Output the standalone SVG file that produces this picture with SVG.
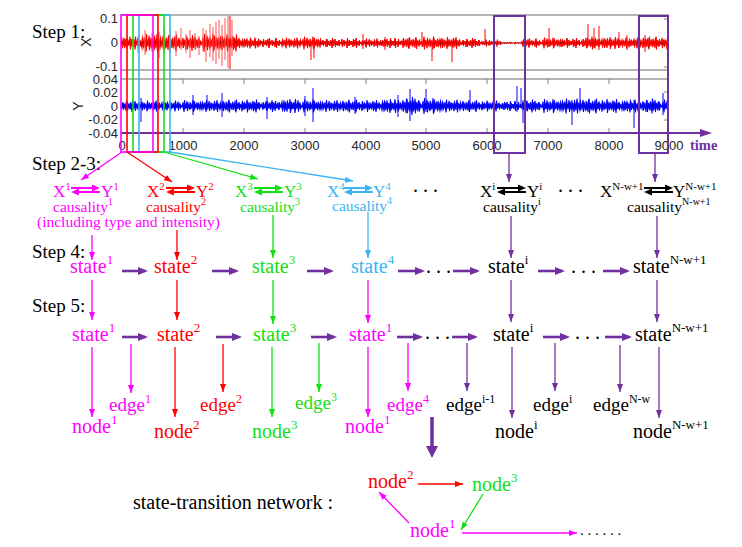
<svg xmlns="http://www.w3.org/2000/svg" xmlns:xlink="http://www.w3.org/1999/xlink" width="742" height="547" viewBox="0 0 742 547">
<style>
.t{font-family:"Liberation Serif","Times New Roman",serif}
.ax{font-family:"Liberation Sans",Arial,sans-serif;font-size:13px;fill:#262626}
.step{font-size:19px;fill:#000}
.xy{font-size:17px}
.cau{font-size:15.5px}
.st{font-size:20px}
.ed{font-size:19px}
.fr{stroke:#9a9a9a;stroke-width:1.6;fill:none}
.tk{stroke:#808080;stroke-width:1;fill:none}
.sig path{fill:none;stroke-width:1;vector-effect:non-scaling-stroke}
.m{fill:#ff00ff}.r{fill:#ff0000}.g{fill:#11e011}.b{fill:#3ab4f2}.k{fill:#000}
.cm{stroke:#ff00ff}.cr{stroke:#ff0000}.cg{stroke:#11e011}.cb{stroke:#3ab4f2}.cp{stroke:#7030a0}
.thin{stroke-width:1.3;fill:none}
.thick{stroke-width:2.6;fill:none}
</style>
<defs>
<marker id="aM" markerUnits="userSpaceOnUse" markerWidth="8" markerHeight="6" refX="8" refY="3" orient="auto"><path d="M0,0L8,3L0,6z" fill="#ff00ff"/></marker>
<marker id="aR" markerUnits="userSpaceOnUse" markerWidth="8" markerHeight="6" refX="8" refY="3" orient="auto"><path d="M0,0L8,3L0,6z" fill="#ff0000"/></marker>
<marker id="aG" markerUnits="userSpaceOnUse" markerWidth="8" markerHeight="6" refX="8" refY="3" orient="auto"><path d="M0,0L8,3L0,6z" fill="#11e011"/></marker>
<marker id="aB" markerUnits="userSpaceOnUse" markerWidth="8" markerHeight="6" refX="8" refY="3" orient="auto"><path d="M0,0L8,3L0,6z" fill="#3ab4f2"/></marker>
<marker id="aP" markerUnits="userSpaceOnUse" markerWidth="8" markerHeight="6" refX="8" refY="3" orient="auto"><path d="M0,0L8,3L0,6z" fill="#7030a0"/></marker>
<marker id="hP" markerUnits="userSpaceOnUse" markerWidth="10" markerHeight="8" refX="7" refY="4" orient="auto"><path d="M0,0L10,4L0,8z" fill="#7030a0"/></marker>
<marker id="bigP" markerUnits="userSpaceOnUse" markerWidth="12" markerHeight="12" refX="8" refY="6" orient="auto"><path d="M0,0L12,6L0,12z" fill="#7030a0"/></marker>
<g id="dbl">
<path d="M0,-2H23" stroke="currentColor" stroke-width="2"/>
<path d="M21,-5.5L29,-2L21,1.5z" fill="currentColor"/>
<path d="M6,2H29" stroke="currentColor" stroke-width="2"/>
<path d="M8,-1.5L0,2L8,5.5z" fill="currentColor"/>
</g>
<path id="na" d="M0,0L1,-3L2,2L3,-4L4,3L5,-1L6,4L7,-2L8,1L9,-5L10,3L11,-2L12,2L13,-3L14,5L15,-1L16,2L17,-4L18,1L19,-2L20,0"/>
<path id="nb" d="M0,0L1,3L2,-2L3,1L4,-3L5,5L6,-1L7,2L8,-4L9,1L10,-3L11,2L12,-2L13,4L14,-1L15,3L16,-5L17,2L18,-1L19,3L20,0"/>
<path id="nc" d="M0,0L1,-2L2,4L3,-1L4,2L5,-3L6,1L7,-4L8,5L9,-2L10,1L11,-3L12,2L13,-1L14,4L15,-5L16,2L17,-2L18,3L19,-1L20,0"/>
<path id="nd" d="M0,0L1,2L2,-3L3,1L4,-2L5,4L6,-4L7,2L8,-1L9,3L10,-2L11,5L12,-3L13,1L14,-4L15,2L16,-1L17,3L18,-3L19,1L20,0"/>
<path id="ne" d="M0,0L1,-1L2,3L3,-5L4,2L5,-2L6,4L7,-1L8,2L9,-3L10,1L11,-2L12,5L13,-4L14,2L15,-1L16,3L17,-2L18,1L19,-3L20,0"/>
<path id="nf" d="M0,0L1,4L2,-2L3,3L4,-1L5,2L6,-5L7,1L8,-3L9,2L10,-2L11,1L12,-4L13,3L14,-1L15,5L16,-2L17,2L18,-3L19,1L20,0"/>
<g id="redBand">
<use href="#na" transform="translate(121,43) scale(1,1.3)"/>
<use href="#nb" transform="translate(141,43) scale(1,1.8)"/>
<use href="#nc" transform="translate(161,43) scale(1,-1.7)"/>
<use href="#nd" transform="translate(181,43) scale(1,1.6)"/>
<use href="#ne" transform="translate(201,43) scale(1,-1.8)"/>
<use href="#nf" transform="translate(221,43) scale(1,1.7)"/>
<use href="#na" transform="translate(241,43) scale(1,-1.1)"/>
<use href="#nc" transform="translate(261,43) scale(1,1.0)"/>
<use href="#nb" transform="translate(281,43) scale(1,1.1)"/>
<use href="#ne" transform="translate(301,43) scale(1,-1.3)"/>
<use href="#nd" transform="translate(321,43) scale(1,1.0)"/>
<use href="#nf" transform="translate(341,43) scale(1,-1.0)"/>
<use href="#nb" transform="translate(361,43) scale(1,0.9)"/>
<use href="#na" transform="translate(381,43) scale(1,-1.0)"/>
<use href="#nc" transform="translate(401,43) scale(1,1.2)"/>
<use href="#ne" transform="translate(421,43) scale(1,1.3)"/>
<use href="#nf" transform="translate(441,43) scale(1,-1.2)"/>
<use href="#nd" transform="translate(461,43) scale(1,1.0)"/>
<use href="#nb" transform="translate(481,43) scale(1,-0.7)"/>
<use href="#na" transform="translate(501,43) scale(1,0.25)"/>
<use href="#nc" transform="translate(521,43) scale(1,0.9)"/>
<use href="#ne" transform="translate(541,43) scale(1,-1.1)"/>
<use href="#nf" transform="translate(561,43) scale(1,1.0)"/>
<use href="#nd" transform="translate(581,43) scale(1,-1.3)"/>
<use href="#na" transform="translate(601,43) scale(1,1.2)"/>
<use href="#nb" transform="translate(621,43) scale(1,-1.1)"/>
<use href="#nc" transform="translate(641,43) scale(1,1.3)"/>
<use href="#nf" transform="translate(661,43) scale(1,-1.3)"/>
</g>
<g id="blueBand">
<use href="#nd" transform="translate(121,106) scale(1,1.2)"/>
<use href="#nf" transform="translate(141,106) scale(1,-1.1)"/>
<use href="#na" transform="translate(161,106) scale(1,1.1)"/>
<use href="#ne" transform="translate(181,106) scale(1,-1.2)"/>
<use href="#nb" transform="translate(201,106) scale(1,1.2)"/>
<use href="#nc" transform="translate(221,106) scale(1,-1.3)"/>
<use href="#nf" transform="translate(241,106) scale(1,1.3)"/>
<use href="#nd" transform="translate(261,106) scale(1,-1.2)"/>
<use href="#na" transform="translate(281,106) scale(1,1.4)"/>
<use href="#ne" transform="translate(301,106) scale(1,-1.3)"/>
<use href="#nb" transform="translate(321,106) scale(1,1.2)"/>
<use href="#nc" transform="translate(341,106) scale(1,-1.3)"/>
<use href="#nf" transform="translate(361,106) scale(1,1.2)"/>
<use href="#na" transform="translate(381,106) scale(1,-1.4)"/>
<use href="#nd" transform="translate(401,106) scale(1,1.8)"/>
<use href="#ne" transform="translate(421,106) scale(1,-1.6)"/>
<use href="#nb" transform="translate(441,106) scale(1,1.3)"/>
<use href="#nc" transform="translate(461,106) scale(1,-1.2)"/>
<use href="#nf" transform="translate(481,106) scale(1,1.1)"/>
<use href="#na" transform="translate(501,106) scale(1,-1.0)"/>
<use href="#nd" transform="translate(521,106) scale(1,1.3)"/>
<use href="#ne" transform="translate(541,106) scale(1,-1.4)"/>
<use href="#nb" transform="translate(561,106) scale(1,1.5)"/>
<use href="#nc" transform="translate(581,106) scale(1,-1.5)"/>
<use href="#nf" transform="translate(601,106) scale(1,1.4)"/>
<use href="#na" transform="translate(621,106) scale(1,-1.3)"/>
<use href="#nd" transform="translate(641,106) scale(1,1.5)"/>
<use href="#ne" transform="translate(661,106) scale(1,-1.3)"/>
</g>
<clipPath id="cx"><rect x="121" y="15" width="547" height="56"/></clipPath>
<clipPath id="cy"><rect x="121" y="79" width="547" height="54"/></clipPath>
</defs>
<rect width="742" height="547" fill="#fff"/>

<g id="plot">
<g class="sig" clip-path="url(#cx)" stroke="#ff0000">
<use href="#redBand"/>
<use href="#redBand" transform="translate(0.5,86) scale(1,-1)"/>
<path stroke="#ff5050" d="M138,36V53M145,30V55M152,33V52M159,32V58M164,30V52M170,35V53M176,31V56M181,28V50M186,34V53M190,30V58M195,33V50M199,36V55M203,28V51M206,30V62M210,24V57M213,27V61M216,22V64M219,20V59M222,25V66M225,18V60M228,16V68M232,20V56"/>
<path d="M230,16V69M452,43V62M432,43V61M311,43V60M314,43V58M485,29V45M549,28V47M588,24V46M594,28V48M599,26V50M363,34V49M385,37V50M422,32V47M619,32V48M627,35V50M645,35V52"/>
</g>
<g class="sig" clip-path="url(#cy)" stroke="#0000ff">
<use href="#blueBand"/>
<use href="#blueBand" transform="translate(0.5,212) scale(1,-1)"/>
<path d="M141,98V122M193,95V115M207,95V110M222,93V117M267,97V119M305,96V116M313,88V122M355,97V114M398,95V117M410,89V121M426,89V112M470,90V110M517,86V112M521,88V108M523,100V123M572,100V125M580,88V110M634,100V128M663,93V115"/>
</g>
<path class="fr" d="M121,15H668V70H121M121,79H668V133"/>
<path class="tk" d="M664,19H668M664,67H668M664,92H668M664,120H668M183,79v5M244,79v5M305,79v5M366,79v5M426,79v5M487,79v5M548,79v5M609,79v5M183,133v-5M244,133v-5M305,133v-5M366,133v-5M426,133v-5M487,133v-5M548,133v-5M609,133v-5"/>
<path d="M121,133H702" stroke="#7030a0" stroke-width="2" fill="none"/>
<path d="M700,129L712,133L700,137z" fill="#7030a0"/>
<g class="ax" text-anchor="end">
<text x="118" y="23">0.1</text>
<text x="118" y="47">0</text>
<text x="118" y="71">-0.1</text>
<text x="118" y="83.5">0.04</text>
<text x="118" y="97">0.02</text>
<text x="118" y="110.5">0</text>
<text x="118" y="124">-0.02</text>
<text x="118" y="138">-0.04</text>
</g>
<g class="ax" text-anchor="middle">
<text x="122" y="150">0</text>
<text x="183" y="150">1000</text>
<text x="244" y="150">2000</text>
<text x="305" y="150">3000</text>
<text x="366" y="150">4000</text>
<text x="426" y="150">5000</text>
<text x="487" y="150">6000</text>
<text x="548" y="150">7000</text>
<text x="609" y="150">8000</text>
<text x="669" y="150">9000</text>
<text transform="translate(91,42) rotate(-90)" font-size="14">X</text>
<text transform="translate(83,106) rotate(-90)" font-size="14">Y</text>
</g>
<text class="t" x="690" y="150" font-size="14.5" font-weight="bold" fill="#7030a0">time</text>
<rect x="139" y="15" width="31" height="137" fill="none" stroke="#3ab4f2" stroke-width="1.6"/>
<rect x="133" y="15" width="31" height="137" fill="none" stroke="#11e011" stroke-width="1.6"/>
<rect x="127" y="15" width="31" height="137" fill="none" stroke="#ff0000" stroke-width="1.6"/>
<rect x="121" y="15" width="32" height="137" fill="none" stroke="#ff00ff" stroke-width="1.6"/>
<rect x="494" y="16" width="31" height="137" fill="none" stroke="#7030a0" stroke-width="2"/>
<rect x="639" y="16" width="29" height="137" fill="none" stroke="#7030a0" stroke-width="2"/>
</g>

<g id="steps" class="t step">
<text x="32" y="38">Step 1:</text>
<text x="32" y="170">Step 2-3:</text>
<text x="32" y="258">Step 4:</text>
<text x="32" y="312">Step 5:</text>
</g>

<g id="c1" class="t">
<text class="xy m" x="53" y="197">X<tspan dy="-7" font-size="11">1</tspan></text>
<use href="#dbl" x="71" y="190" color="#ff00ff"/>
<text class="xy m" x="101" y="197">Y<tspan dy="-7" font-size="11">1</tspan></text>
<text class="cau m" x="53" y="212">causality<tspan dy="-7" font-size="10">1</tspan></text>
<text class="cau m" x="37" y="227">(including type and intensity)</text>
</g>
<g id="c2" class="t">
<text class="xy r" x="147" y="197">X<tspan dy="-7" font-size="11">2</tspan></text>
<use href="#dbl" x="166" y="190" color="#ff0000"/>
<text class="xy r" x="196" y="197">Y<tspan dy="-7" font-size="11">2</tspan></text>
<text class="cau r" x="146" y="212">causality<tspan dy="-7" font-size="10">2</tspan></text>
</g>
<g id="c3" class="t">
<text class="xy g" x="235" y="197">X<tspan dy="-7" font-size="11">3</tspan></text>
<use href="#dbl" x="254" y="190" color="#11e011"/>
<text class="xy g" x="284" y="197">Y<tspan dy="-7" font-size="11">3</tspan></text>
<text class="cau g" x="240" y="212">causality<tspan dy="-7" font-size="10">3</tspan></text>
</g>
<g id="c4" class="t">
<text class="xy b" x="327" y="197">X<tspan dy="-7" font-size="11">4</tspan></text>
<use href="#dbl" x="344" y="190" color="#3ab4f2"/>
<text class="xy b" x="373" y="197">Y<tspan dy="-7" font-size="11">4</tspan></text>
<text class="cau b" x="332" y="211">causality<tspan dy="-7" font-size="10">4</tspan></text>
</g>
<g id="ci" class="t">
<text class="xy k" x="480" y="197">X<tspan dy="-7" font-size="11">i</tspan></text>
<use href="#dbl" x="497" y="190" color="#000"/>
<text class="xy k" x="527" y="197">Y<tspan dy="-7" font-size="11">i</tspan></text>
<text class="cau k" x="483" y="212">causality<tspan dy="-7" font-size="10">i</tspan></text>
</g>
<g id="cN" class="t">
<text class="xy k" x="600" y="197">X<tspan dy="-7" font-size="11">N-w+1</tspan></text>
<use href="#dbl" x="644" y="190" color="#000"/>
<text class="xy k" x="673" y="197">Y<tspan dy="-7" font-size="11">N-w+1</tspan></text>
<text class="cau k" x="627" y="212">causality<tspan dy="-7" font-size="10">N-w+1</tspan></text>
</g>
<g id="dots" class="t k" font-size="20">
<text x="413" y="192">. . .</text>
<text x="558" y="192">. . .</text>
<text x="426" y="273">. . .</text>
<text x="571" y="273">. . .</text>
<text x="425" y="339">. . .</text>
<text x="575" y="339">. . .</text>
<text x="580" y="535" font-size="15">. . . . . .</text>
</g>

<g id="s4-1" class="t st m"><text x="70" y="273">state<tspan dy="-9" font-size="13">1</tspan></text></g>
<g id="s4-2" class="t st r"><text x="154" y="273">state<tspan dy="-9" font-size="13">2</tspan></text></g>
<g id="s4-3" class="t st g"><text x="252" y="273">state<tspan dy="-9" font-size="13">3</tspan></text></g>
<g id="s4-4" class="t st b"><text x="351" y="273">state<tspan dy="-9" font-size="13">4</tspan></text></g>
<g id="s4-i" class="t st k"><text x="488" y="273">state<tspan dy="-9" font-size="13">i</tspan></text></g>
<g id="s4-N" class="t st k"><text x="633" y="273">state<tspan dy="-9" font-size="13">N-w+1</tspan></text></g>

<g id="s5-1" class="t st m"><text x="72" y="341">state<tspan dy="-9" font-size="13">1</tspan></text></g>
<g id="s5-2" class="t st r"><text x="157" y="341">state<tspan dy="-9" font-size="13">2</tspan></text></g>
<g id="s5-3" class="t st g"><text x="253" y="341">state<tspan dy="-9" font-size="13">3</tspan></text></g>
<g id="s5-4" class="t st m"><text x="349" y="341">state<tspan dy="-9" font-size="13">1</tspan></text></g>
<g id="s5-i" class="t st k"><text x="493" y="341">state<tspan dy="-9" font-size="13">i</tspan></text></g>
<g id="s5-N" class="t st k"><text x="635" y="341">state<tspan dy="-9" font-size="13">N-w+1</tspan></text></g>

<g id="e1" class="t ed m"><text x="109" y="411">edge<tspan dy="-8" font-size="12">1</tspan></text></g>
<g id="e2" class="t ed r"><text x="200" y="411">edge<tspan dy="-8" font-size="12">2</tspan></text></g>
<g id="e3" class="t ed g"><text x="295" y="409">edge<tspan dy="-8" font-size="12">3</tspan></text></g>
<g id="e4" class="t ed m"><text x="387" y="411">edge<tspan dy="-8" font-size="12">4</tspan></text></g>
<g id="ei1" class="t ed k"><text x="446" y="411">edge<tspan dy="-8" font-size="12">i-1</tspan></text></g>
<g id="ei" class="t ed k"><text x="533" y="411">edge<tspan dy="-8" font-size="12">i</tspan></text></g>
<g id="eN" class="t ed k"><text x="593" y="411">edge<tspan dy="-8" font-size="12">N-w</tspan></text></g>

<g id="n1" class="t st m"><text x="72" y="433">node<tspan dy="-9" font-size="13">1</tspan></text></g>
<g id="n2" class="t st r"><text x="154" y="438">node<tspan dy="-9" font-size="13">2</tspan></text></g>
<g id="n3" class="t st g"><text x="252" y="438">node<tspan dy="-9" font-size="13">3</tspan></text></g>
<g id="n4" class="t st m"><text x="345" y="433">node<tspan dy="-9" font-size="13">1</tspan></text></g>
<g id="ni" class="t st k"><text x="495" y="438">node<tspan dy="-9" font-size="13">i</tspan></text></g>
<g id="nN" class="t st k"><text x="633" y="438">node<tspan dy="-9" font-size="13">N-w+1</tspan></text></g>

<g id="net-label" class="t st k"><text x="133" y="509">state-transition network :</text></g>
<g id="net-n2" class="t st r"><text x="368" y="488">node<tspan dy="-9" font-size="13">2</tspan></text></g>
<g id="net-n3" class="t st g"><text x="472" y="491">node<tspan dy="-9" font-size="13">3</tspan></text></g>
<g id="net-n1" class="t st m"><text x="410" y="537">node<tspan dy="-9" font-size="13">1</tspan></text></g>

<g id="connectors">
<path class="thin cm" d="M122,152L81,180" marker-end="url(#aM)"/>
<path class="thin cr" d="M127,152L172,182" marker-end="url(#aR)"/>
<path class="thin cg" d="M164,152L258,179" marker-end="url(#aG)"/>
<path class="thin cb" d="M170,152L353,181" marker-end="url(#aB)"/>
<path class="thin cp" d="M509,153V182" marker-end="url(#aP)"/>
<path class="thin cp" d="M655,153V182" marker-end="url(#aP)"/>
<path class="thin cm" d="M92,235V260" marker-end="url(#aM)"/>
<path class="thin cr" d="M177,230V260" marker-end="url(#aR)"/>
<path class="thin cg" d="M273,215V258" marker-end="url(#aG)"/>
<path class="thin cb" d="M368,212V258" marker-end="url(#aB)"/>
<path class="thin cp" d="M511,216V258" marker-end="url(#aP)"/>
<path class="thin cp" d="M657,216V258" marker-end="url(#aP)"/>
<path class="thick cp" d="M122,271H145" marker-end="url(#hP)"/>
<path class="thick cp" d="M212,271H236" marker-end="url(#hP)"/>
<path class="thick cp" d="M307,271H331" marker-end="url(#hP)"/>
<path class="thick cp" d="M398,271H422" marker-end="url(#hP)"/>
<path class="thick cp" d="M453,271H477" marker-end="url(#hP)"/>
<path class="thick cp" d="M538,271H562" marker-end="url(#hP)"/>
<path class="thick cp" d="M603,271H627" marker-end="url(#hP)"/>
<path class="thin cm" d="M92,280V320" marker-end="url(#aM)"/>
<path class="thin cr" d="M177,280V320" marker-end="url(#aR)"/>
<path class="thin cg" d="M273,280V324" marker-end="url(#aG)"/>
<path class="thin cm" d="M368,280V323" marker-end="url(#aM)"/>
<path class="thin cp" d="M511,280V322" marker-end="url(#aP)"/>
<path class="thin cp" d="M657,280V322" marker-end="url(#aP)"/>
<path class="thick cp" d="M122,337H145" marker-end="url(#hP)"/>
<path class="thick cp" d="M216,337H239" marker-end="url(#hP)"/>
<path class="thick cp" d="M311,337H334" marker-end="url(#hP)"/>
<path class="thick cp" d="M397,337H420" marker-end="url(#hP)"/>
<path class="thick cp" d="M452,337H475" marker-end="url(#hP)"/>
<path class="thick cp" d="M543,337H567" marker-end="url(#hP)"/>
<path class="thick cp" d="M605,337H629" marker-end="url(#hP)"/>
<path class="thin cm" d="M92,347V417" marker-end="url(#aM)"/>
<path class="thin cr" d="M175,347V417" marker-end="url(#aR)"/>
<path class="thin cg" d="M272,347V417" marker-end="url(#aG)"/>
<path class="thin cm" d="M368,347V417" marker-end="url(#aM)"/>
<path class="thin cp" d="M512,347V418" marker-end="url(#aP)"/>
<path class="thin cp" d="M659,347V418" marker-end="url(#aP)"/>
<path class="thin cm" d="M131,344V393" marker-end="url(#aM)"/>
<path class="thin cr" d="M223,344V392" marker-end="url(#aR)"/>
<path class="thin cg" d="M319,343V392" marker-end="url(#aG)"/>
<path class="thin cm" d="M408,343V391" marker-end="url(#aM)"/>
<path class="thin cp" d="M467,343V391" marker-end="url(#aP)"/>
<path class="thin cp" d="M555,343V391" marker-end="url(#aP)"/>
<path class="thin cp" d="M620,345V392" marker-end="url(#aP)"/>
<path d="M432,417V454" stroke="#7030a0" stroke-width="3.5" fill="none" marker-end="url(#bigP)"/>
<path class="thin cr" d="M418,484H463" marker-end="url(#aR)"/>
<path class="thin cg" d="M483,494L461,530" marker-end="url(#aG)"/>
<path class="thin cm" d="M409,523L379,492" marker-end="url(#aM)"/>
<path class="thin cm" d="M462,533H577" marker-end="url(#aM)"/>
</g>
</svg>
